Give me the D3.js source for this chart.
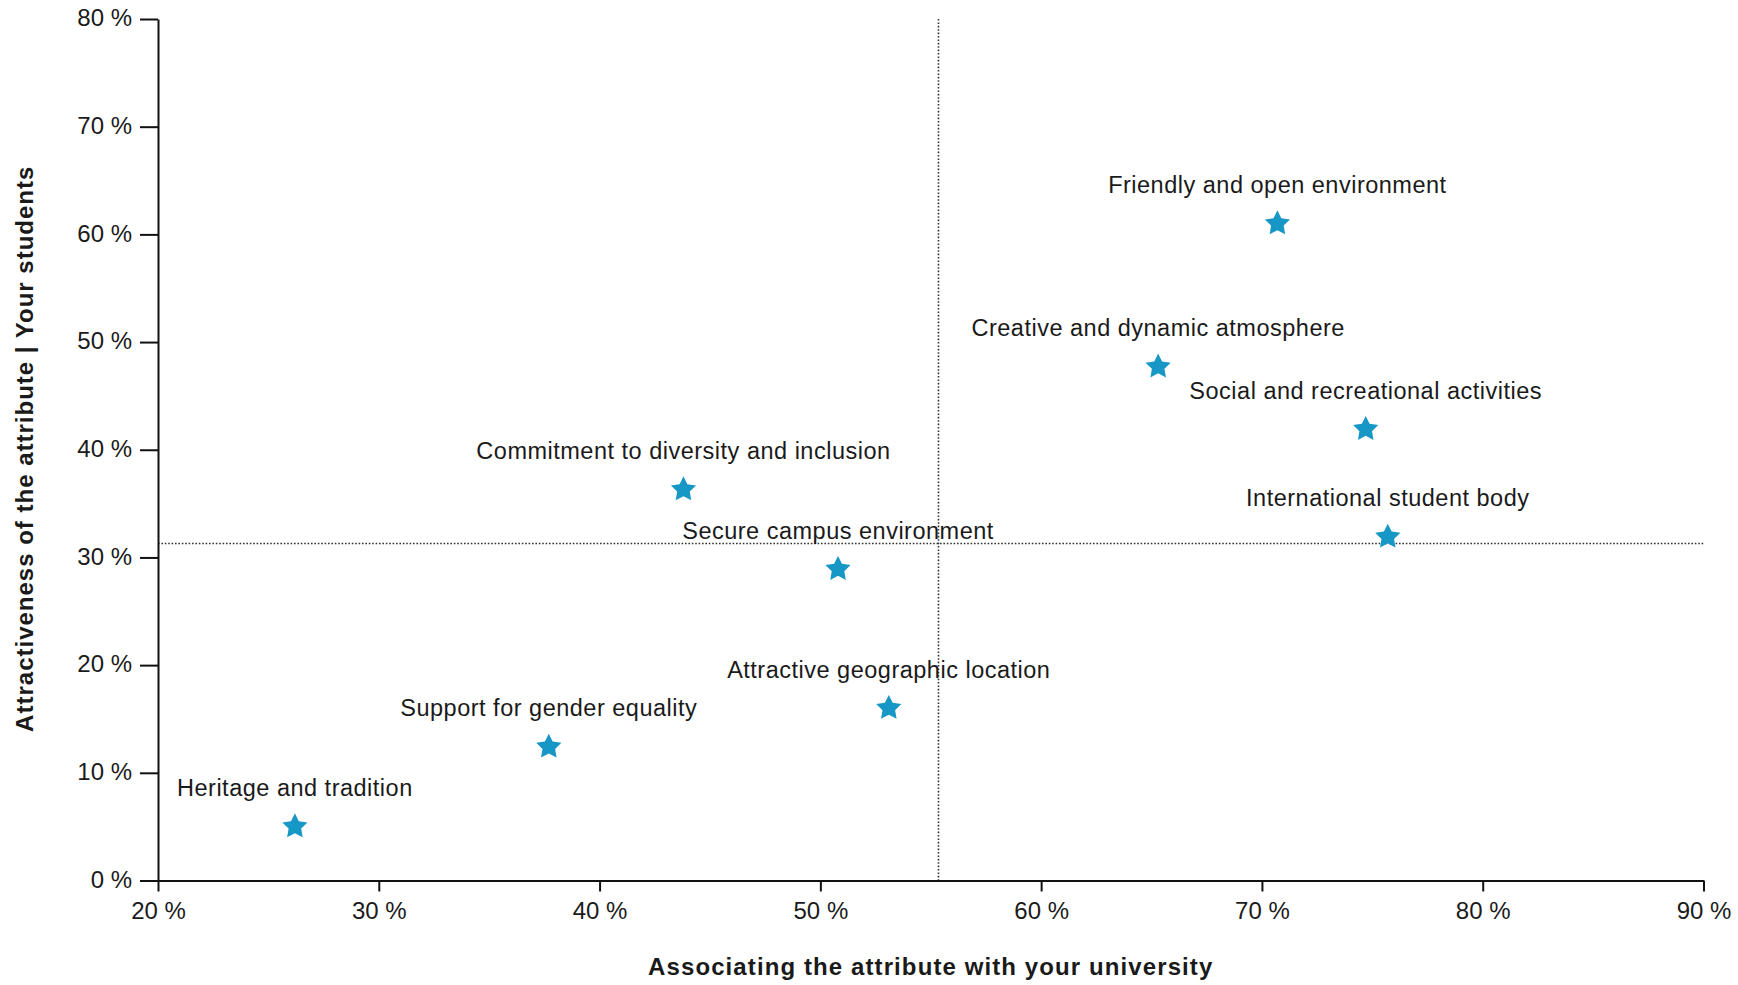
<!DOCTYPE html>
<html>
<head>
<meta charset="utf-8">
<script src="https://cdn.jsdelivr.net/npm/d3@7"></script>
<style>
  html, body { margin: 0; padding: 0; background: #fff; }
  svg { display: block; }
  text { font-family: "Liberation Sans", Arial, sans-serif; fill: #1a1a1a; }
</style>
</head>
<body>
<svg id="chart" width="1738" height="985"></svg>
<script>
// ---- data ----
const categories = [
  "Heritage and tradition",
  "Support for gender equality",
  "Commitment to diversity and inclusion",
  "Secure campus environment",
  "Attractive geographic location",
  "Creative and dynamic atmosphere",
  "Friendly and open environment",
  "Social and recreational activities",
  "International student body"
];
const associating = [26.2, 37.7, 43.8, 50.8, 53.1, 65.3, 70.7, 74.7, 75.7];   // x, %
const attractiveness = [5.1, 12.5, 36.4, 29.0, 16.1, 47.8, 61.1, 42.0, 32.0]; // y, %
const xTicks = [20, 30, 40, 50, 60, 70, 80, 90];
const yTicks = [0, 10, 20, 30, 40, 50, 60, 70, 80];
const xTitle = "Associating the attribute with your university";
const yTitle = "Attractiveness of the attribute | Your students";

const points = categories.map((c, i) => ({ name: c, x: associating[i], y: attractiveness[i] }));

// ---- layout ----
const svg = d3.select("#chart");
const plotL = 158, plotR = 1703.5, plotT = 19, plotB = 880.5;
const x = d3.scaleLinear().domain([20, 90]).range([plotL, plotR]);
const y = d3.scaleLinear().domain([0, 80]).range([plotB, plotT]);
const fmt = d => d + " %";

// reference (mean) lines
const meanX = d3.mean(associating), meanY = d3.mean(attractiveness);
svg.append("line")
  .attr("x1", Math.round(x(meanX)) + 0.5).attr("x2", Math.round(x(meanX)) + 0.5)
  .attr("y1", plotT).attr("y2", plotB)
  .attr("stroke", "#333").attr("stroke-width", 1.6).attr("stroke-dasharray", "1.6,1.8");
svg.append("line")
  .attr("x1", plotL).attr("x2", plotR)
  .attr("y1", Math.round(y(meanY)) + 0.5).attr("y2", Math.round(y(meanY)) + 0.5)
  .attr("stroke", "#333").attr("stroke-width", 1.6).attr("stroke-dasharray", "1.6,1.8");

// axes
const xAxis = svg.append("g").attr("transform", `translate(0,${plotB})`)
  .call(d3.axisBottom(x).tickValues(xTicks).tickFormat(fmt).tickSize(11).tickPadding(10).tickSizeOuter(0));
const yAxis = svg.append("g").attr("transform", `translate(${plotL},0)`)
  .call(d3.axisLeft(y).tickValues(yTicks).tickFormat(fmt).tickSize(18).tickPadding(8).tickSizeOuter(0));
[xAxis, yAxis].forEach(g => {
  g.select(".domain").attr("stroke", "#111").attr("stroke-width", 2);
  g.selectAll(".tick line").attr("stroke", "#111").attr("stroke-width", 2);
  g.selectAll(".tick text")
    .style("font-family", '"Liberation Sans", Arial, sans-serif')
    .attr("font-size", 24).attr("fill", "#222");
});
xAxis.selectAll(".tick text").attr("dy", "0.72em");
yAxis.selectAll(".tick text").attr("dy", "0.28em");

// axis titles
svg.append("text")
  .attr("x", (plotL + plotR) / 2).attr("y", 975)
  .attr("text-anchor", "middle")
  .attr("font-size", 24).attr("font-weight", "bold").attr("letter-spacing", 1.1)
  .text(xTitle);
svg.append("text")
  .attr("transform", `translate(33,${(plotT + plotB) / 2 - 1}) rotate(-90)`)
  .attr("text-anchor", "middle")
  .attr("font-size", 24).attr("font-weight", "bold").attr("letter-spacing", 1.0)
  .text(yTitle);

// star symbol
const star = {
  draw(ctx, size) {
    const R = Math.sqrt(size), r = R * 0.5;
    for (let i = 0; i < 10; i++) {
      const rad = i % 2 === 0 ? R : r;
      const a = -Math.PI / 2 + i * Math.PI / 5;
      const px = rad * Math.cos(a), py = rad * Math.sin(a);
      if (i === 0) ctx.moveTo(px, py); else ctx.lineTo(px, py);
    }
    ctx.closePath();
  }
};

const g = svg.append("g");
g.selectAll("path.pt").data(points).join("path")
  .attr("class", "pt")
  .attr("transform", d => `translate(${x(d.x)},${y(d.y) + 1})`)
  .attr("d", d3.symbol().type(star).size(175))
  .attr("fill", "#1797c5");

g.selectAll("text.lbl").data(points).join("text")
  .attr("class", "lbl")
  .attr("x", d => x(d.x)).attr("y", d => y(d.y) - 29.5)
  .attr("text-anchor", "middle")
  .attr("font-size", 23.5).attr("letter-spacing", 0.5)
  .text(d => d.name);
</script>
</body>
</html>
